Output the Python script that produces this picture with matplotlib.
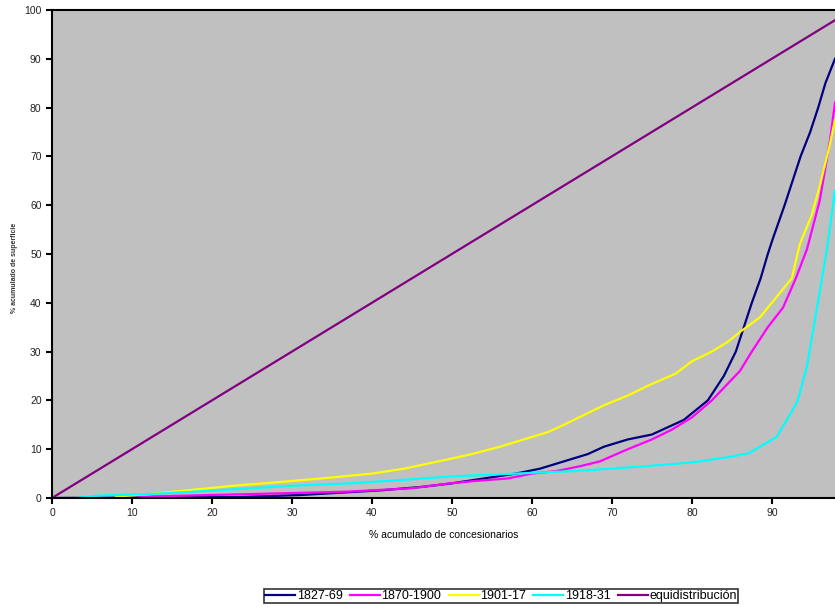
import numpy as np
import matplotlib.pyplot as plt

plt.rcParams['font.family'] = ['Liberation Sans', 'DejaVu Sans']

# Lorenz-type curves of land concentration by period
x_1827 = [0, 23.5, 31, 41.4, 46.4, 50, 54, 58, 61, 64, 67, 69, 72, 75, 77, 79, 80.5, 82, 84, 85.5, 86.3,
          87.5, 88.6, 89.5, 90.1, 91.6, 92.6, 93.6, 94.8, 95.8, 96.7, 97.9]
y_1827 = [0, 0.2, 0.6, 1.6, 2.3, 3, 4, 5, 6, 7.5, 9, 10.5, 12, 13, 14.5, 16, 18, 20, 25, 30, 34,
          40, 45, 50, 53, 60, 65, 70, 75, 80, 85, 90]

x_1870 = [11, 12, 24.75, 37, 45, 49.75, 53, 57, 60, 63, 66, 68.5, 72, 75, 77.5, 80, 82.5, 86,
          87.5, 89.5, 91.4, 93, 94.4, 96, 97.25, 97.9]
y_1870 = [0.3, 0.3, 0.8, 1.3, 2, 3, 3.5, 4, 5, 5.5, 6.5, 7.5, 10, 12, 14, 16.5, 20, 26,
          30, 35, 39, 45, 51, 61, 73, 81]

x_1901 = [8, 12.25, 22.6, 28, 35, 40, 44, 49.75, 52.5, 56, 59, 62, 64, 66.5, 69, 72, 74.5, 78,
          80, 82.5, 84.5, 86, 88.5, 90.5, 92.5, 93.5, 95, 96, 97.2, 97.9]
y_1901 = [0.3, 0.8, 2.5, 3.2, 4.2, 5, 6, 8, 9, 10.5, 12, 13.5, 15, 17, 19, 21, 23, 25.5,
          28, 30, 32, 34, 37, 41, 45, 52, 58, 64, 72, 77.5]

x_1918 = [3, 6, 12.25, 20, 25, 30, 37.25, 42, 49.75, 58, 65, 70, 74, 78, 81, 83, 85, 87.2,
          88.5, 90.6, 92.6, 93.25, 94.4, 95.6, 96.9, 97.9]
y_1918 = [0, 0.5, 0.8, 1.5, 2, 2.5, 3, 3.5, 4.4, 5, 5.5, 6, 6.5, 7, 7.5, 8, 8.5, 9.2,
          10.5, 12.5, 18, 20, 27, 38.5, 51, 63]

x_equi = [0, 100]
y_equi = [0, 100]

series = [
    (x_1827, y_1827, '#000080', '1827-69'),
    (x_1870, y_1870, '#FF00FF', '1870-1900'),
    (x_1901, y_1901, '#FFFF00', '1901-17'),
    (x_1918, y_1918, '#00FFFF', '1918-31'),
    (x_equi, y_equi, '#800080', 'equidistribución'),
]

fig = plt.figure(figsize=(8.35, 6.07), dpi=100)
ax = fig.add_axes([0.0623, 0.1796, 0.9377, 0.804])
ax.set_facecolor('#C0C0C0')

for xs, ys, c, lab in series:
    ax.plot(xs, ys, color=c, lw=1.6, label=lab)

ax.set_xlim(0, 97.9)
ax.set_ylim(0, 100)
ax.set_xticks(np.arange(0, 100, 10))
ax.set_yticks(np.arange(0, 101, 10))
ax.tick_params(labelsize=7.5, length=4, width=1.5, colors='black', labelcolor='#222222')
for s in ['left', 'bottom', 'top']:
    ax.spines[s].set_linewidth(1.5)
ax.spines['right'].set_visible(False)

ax.set_xlabel('% acumulado de concesionarios', fontsize=7.5, labelpad=8)
fig.text(15 / 835, 1 - 268 / 607, '% acumulado de superficie', rotation=90,
         fontsize=5, fontweight='bold', ha='center', va='center', color='#333333')

leg = fig.legend(loc='center', bbox_to_anchor=(501 / 835, 1 - 596 / 607), ncol=5,
                 fontsize=9, frameon=True, fancybox=False, edgecolor='black',
                 handlelength=2.4, handletextpad=0.1, columnspacing=0.6,
                 borderpad=0.1, borderaxespad=0)
leg.get_frame().set_linewidth(1.2)

fig.savefig('out.png', dpi=100)
